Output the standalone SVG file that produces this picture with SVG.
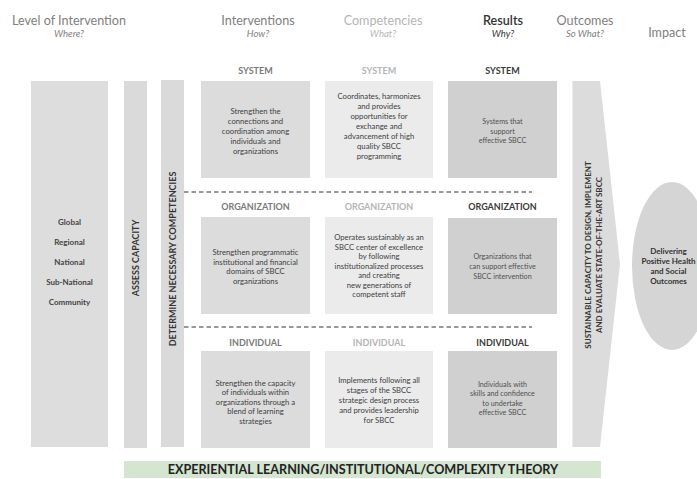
<svg xmlns="http://www.w3.org/2000/svg" width="697" height="479" viewBox="0 0 697 479">
<style>
text{font-family:Lato,"Open Sans","Liberation Sans",sans-serif}
.hd{font-size:12.6px;fill:#808080;text-anchor:middle}
.sub{font-size:9.5px;font-style:italic;fill:#808080;text-anchor:middle}
.hdl{fill:#b5b5b5}
.hdd{fill:#333333}
.sec{font-size:9px;font-weight:bold;text-anchor:middle}
.s1{fill:#7a7a7a}.s2{fill:#b5b5b5}.s3{fill:#3a3a3a}
.bt{font-size:7.7px;fill:#404040;text-anchor:middle}
.rt{font-size:7.2px;fill:#505050;text-anchor:middle}
.lv{font-size:8px;font-weight:bold;fill:#444;text-anchor:middle}
.vt{font-size:9px;font-weight:bold;fill:#333;text-anchor:middle}
.ot{font-size:8px;font-weight:bold;fill:#333;text-anchor:middle}
.b1{fill:#dcdcdd}.b2{fill:#ebebec}.b3{fill:#d0d0d1}
.dash{stroke:#333;stroke-width:1;stroke-dasharray:4.5 3;fill:none}
</style>
<rect width="697" height="479" fill="#ffffff"/>
<g id="headers">
<text class="hd" x="69" y="24.5">Level of Intervention</text>
<text class="sub" x="69" y="37">Where?</text>
<text class="hd" x="258" y="24.5">Interventions</text>
<text class="sub" x="258" y="37">How?</text>
<text class="hd hdl" x="383" y="24.5">Competencies</text>
<text class="sub hdl" x="383" y="37">What?</text>
<text class="hd hdd" x="503" y="24.5" font-weight="600">Results</text>
<text class="sub hdd" x="503" y="37">Why?</text>
<text class="hd" x="585" y="24.5">Outcomes</text>
<text class="sub" x="585" y="37">So What?</text>
<text class="hd" x="667" y="37">Impact</text>
</g>
<g id="connectors">
<line class="dash" x1="184" y1="192" x2="532" y2="192"/>
<line class="dash" x1="184" y1="327" x2="532" y2="327"/>
</g>
<g id="levels">
<rect x="31" y="81" width="77" height="366" fill="#dddddd"/>
<text class="lv" x="69.5" y="225">Global</text>
<text class="lv" x="69.5" y="245">Regional</text>
<text class="lv" x="69.5" y="265">National</text>
<text class="lv" x="69.5" y="284.5">Sub-National</text>
<text class="lv" x="69.5" y="305">Community</text>
</g>
<g id="assess">
<rect x="124" y="81" width="23" height="367" fill="#dadadb"/>
<text class="vt" transform="translate(138.8,258) rotate(-90)" x="0" y="0">ASSESS CAPACITY</text>
</g>
<g id="determine">
<rect x="161" y="80" width="23" height="367" fill="#dadadb"/>
<text class="vt" transform="translate(175.8,259) rotate(-90)" x="0" y="0">DETERMINE NECESSARY COMPETENCIES</text>
</g>
<g id="int-system">
<text class="sec s1" x="255.5" y="74">SYSTEM</text>
<rect class="b1" x="201" y="81" width="109" height="97"/>
<text class="bt"><tspan x="255.5" y="113.5">Strengthen the</tspan><tspan x="255.5" y="123.5">connections and</tspan><tspan x="255.5" y="133.5">coordination among</tspan><tspan x="255.5" y="143.5">individuals and</tspan><tspan x="255.5" y="153.5">organizations</tspan></text>
</g>
<g id="comp-system">
<text class="sec s2" x="379" y="74">SYSTEM</text>
<rect class="b2" x="325" y="81" width="108" height="97"/>
<text class="bt"><tspan x="379" y="99">Coordinates, harmonizes</tspan><tspan x="379" y="109">and provides</tspan><tspan x="379" y="119">opportunities for</tspan><tspan x="379" y="129">exchange and</tspan><tspan x="379" y="139">advancement of high</tspan><tspan x="379" y="149">quality SBCC</tspan><tspan x="379" y="159">programming</tspan></text>
</g>
<g id="res-system">
<text class="sec s3" x="502.5" y="74">SYSTEM</text>
<rect class="b3" x="448" y="81" width="109" height="97"/>
<text class="rt"><tspan x="502.5" y="124">Systems that</tspan><tspan x="502.5" y="133.5">support</tspan><tspan x="502.5" y="143">effective SBCC</tspan></text>
</g>
<g id="int-org">
<text class="sec s1" x="255.5" y="209.5">ORGANIZATION</text>
<rect class="b1" x="201" y="217" width="109" height="97"/>
<text class="bt"><tspan x="255.5" y="255">Strengthen programmatic</tspan><tspan x="255.5" y="264.5">institutional and financial</tspan><tspan x="255.5" y="274">domains of SBCC</tspan><tspan x="255.5" y="283.5">organizations</tspan></text>
</g>
<g id="comp-org">
<text class="sec s2" x="379" y="209.5">ORGANIZATION</text>
<rect class="b2" x="325" y="217" width="108" height="97"/>
<text class="bt"><tspan x="379" y="240">Operates sustainably as an</tspan><tspan x="379" y="249.5">SBCC center of excellence</tspan><tspan x="379" y="259">by following</tspan><tspan x="379" y="268.5">institutionalized processes</tspan><tspan x="379" y="278">and creating</tspan><tspan x="379" y="287.5">new generations of</tspan><tspan x="379" y="297">competent staff</tspan></text>
</g>
<g id="res-org">
<text class="sec s3" x="502.5" y="209.5">ORGANIZATION</text>
<rect class="b3" x="448" y="218" width="109" height="96"/>
<text class="rt"><tspan x="502.5" y="258.5">Organizations that</tspan><tspan x="502.5" y="268.5">can support effective</tspan><tspan x="502.5" y="278.5">SBCC intervention</tspan></text>
</g>
<g id="int-ind">
<text class="sec s1" x="255.5" y="346">INDIVIDUAL</text>
<rect class="b1" x="201" y="351" width="109" height="97"/>
<text class="bt"><tspan x="255.5" y="385.5">Strengthen the capacity</tspan><tspan x="255.5" y="395">of individuals within</tspan><tspan x="255.5" y="404.5">organizations through a</tspan><tspan x="255.5" y="414">blend of learning</tspan><tspan x="255.5" y="423.5">strategies</tspan></text>
</g>
<g id="comp-ind">
<text class="sec s2" x="379" y="346">INDIVIDUAL</text>
<rect class="b2" x="325" y="351" width="108" height="97"/>
<text class="bt"><tspan x="379" y="382.5">Implements following all</tspan><tspan x="379" y="392.5">stages of the SBCC</tspan><tspan x="379" y="402.5">strategic design process</tspan><tspan x="379" y="412.5">and provides leadership</tspan><tspan x="379" y="422.5">for SBCC</tspan></text>
</g>
<g id="res-ind">
<text class="sec s3" x="502.5" y="346">INDIVIDUAL</text>
<rect class="b3" x="448" y="351" width="109" height="97"/>
<text class="rt"><tspan x="502.5" y="386.5">Individuals with</tspan><tspan x="502.5" y="396">skills and confidence</tspan><tspan x="502.5" y="405.5">to undertake</tspan><tspan x="502.5" y="415">effective SBCC</tspan></text>
</g>
<g id="outcome">
<path d="M572.5,81 L600,81 L620,264 L600,447 L572.5,447 Z" fill="#dcdcdd"/>
<text class="ot" transform="translate(591,255) rotate(-90)" x="0" y="0">SUSTAINABLE CAPACITY TO DESIGN, IMPLEMENT</text>
<text class="ot" transform="translate(602,255) rotate(-90)" x="0" y="0">AND EVALUATE STATE-OF-THE-ART SBCC</text>
</g>
<g id="impact">
<ellipse cx="672" cy="266" rx="40" ry="84" fill="#d5d5d6"/>
<text class="ot" font-size="7.8"><tspan x="668.5" y="254">Delivering</tspan><tspan x="668.5" y="264">Positive Health</tspan><tspan x="668.5" y="274">and Social</tspan><tspan x="668.5" y="283.5">Outcomes</tspan></text>
</g>
<g id="theory">
<rect x="124" y="461" width="477" height="17" fill="#d4e5d0"/>
<text x="363" y="474.3" font-size="12.6" font-weight="bold" fill="#222" text-anchor="middle">EXPERIENTIAL LEARNING/INSTITUTIONAL/COMPLEXITY THEORY</text>
</g>
</svg>
